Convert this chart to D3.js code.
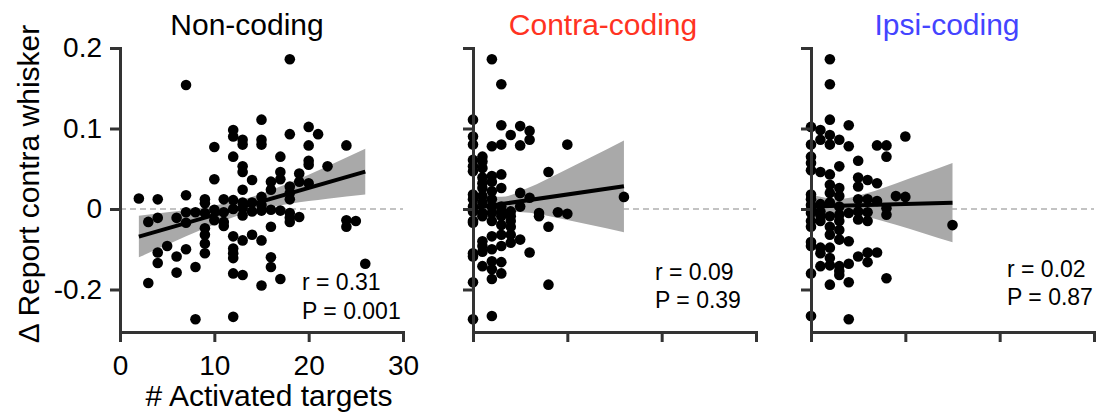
<!DOCTYPE html>
<html lang="en">
<head>
<meta charset="utf-8">
<title>Activated targets vs report</title>
<script src="https://cdn.jsdelivr.net/npm/d3@7"></script>
<style>
  body { margin: 0; background: #fff; }
  svg text { font-family: "Liberation Sans", Arial, sans-serif; }
  .axis path, .axis line { stroke: #333; stroke-width: 3; }
  .axis text { fill: #000; font-size: 28px; }
</style>
</head>
<body>
<script>
var w = 1098, h = 420;

// panel names, colours and stats
var panelTitles = ["Non-coding", "Contra-coding", "Ipsi-coding"];
var titleColors = ["#000000", "#ff3322", "#4444ff"];
var rText = ["r = 0.31", "r = 0.09", "r = 0.02"];
var pText = ["P = 0.001", "P = 0.39", "P = 0.87"];

// ticks (the lowest tick carries the "-0.2" label as in the figure)
var xTicks = [0, 10, 20, 30];
var yTicks = [0.2, 0.1, 0, -0.1];
var yTickLabels = ["0.2", "0.1", "0", "-0.2"];

// points, one column per # activated targets
var nonX = [2, 3, 4, 5, 6, 7, 8, 9, 10, 11, 12, 13, 14, 15, 16, 17, 18, 19, 20, 21, 22, 24, 25, 26];
var nonY = [
  [0.013],
  [-0.016, -0.092],
  [0.012, -0.011, -0.054, -0.067],
  [-0.046],
  [-0.011, -0.059, -0.079],
  [0.154, 0.017, -0.004, -0.017, -0.05],
  [-0.004, -0.072, -0.137],
  [0.012, 0.007, -0.005, -0.024, -0.032, -0.043, -0.055],
  [0.077, 0.037, -0.001, -0.014],
  [0.012, -0.004, -0.016, -0.021],
  [0.098, 0.09, 0.065, 0.011, 0, -0.034, -0.049, -0.055, -0.061, -0.08, -0.134],
  [0.086, 0.08, 0.053, 0.046, 0.024, 0.008, 0.001, -0.008, -0.039, -0.082],
  [0.036, 0.008, -0.003, -0.032],
  [0.111, 0.086, 0.08, 0.015, 0.005, -0.002, -0.039, -0.095],
  [0.034, 0.024, -0.001, -0.022, -0.06, -0.072],
  [0.065, 0.046, 0.037, -0.002, -0.087],
  [0.186, 0.093, 0.028, 0.02, 0.012, -0.005, -0.011, -0.016],
  [0.044, 0.034, -0.01],
  [0.102, 0.079, 0.06, 0.055, 0.032],
  [0.093],
  [0.053],
  [0.079, -0.014, -0.022],
  [-0.015],
  [-0.068]
];

var contraX = [0, 1, 2, 3, 4, 5, 6, 7, 8, 9, 10, 16];
var contraY = [
  [0.111, 0.09, 0.08, 0.061, 0.053, 0.047, 0.018, 0.012, 0.003, -0.003, -0.015, -0.017, -0.055, -0.059, -0.091, -0.137],
  [0.065, 0.059, 0.051, 0.039, 0.032, 0.026, 0.016, 0.008, -0.005, -0.009, -0.04, -0.046, -0.053, -0.071],
  [0.186, 0.078, 0.041, 0.034, 0.022, 0.012, 0.003, -0.005, -0.015, -0.034, -0.05, -0.065, -0.075, -0.087, -0.133],
  [0.155, 0.104, 0.08, 0.043, 0.026, 0.003, -0.003, -0.009, -0.02, -0.032, -0.046, -0.066, -0.08],
  [0.092, -0.003, -0.009, -0.015, -0.022, -0.032, -0.042],
  [0.103, 0.079, 0.02, 0.003, -0.038],
  [0.097, 0.086, 0.014, -0.054],
  [-0.005, -0.009],
  [0.046, -0.022, -0.094],
  [-0.004],
  [0.08, -0.006],
  [0.015]
];

var ipsiX = [0, 1, 2, 3, 4, 5, 6, 7, 8, 9, 10, 15];
var ipsiY = [
  [0.102, 0.08, 0.065, 0.057, 0.048, 0.018, 0.012, 0.005, -0.001, -0.005, -0.015, -0.022, -0.041, -0.046, -0.08, -0.133],
  [0.098, 0.086, 0.046, 0.006, -0.003, -0.008, -0.015, -0.048, -0.055, -0.071],
  [0.186, 0.155, 0.111, 0.092, 0.08, 0.043, 0.03, 0.02, 0.008, -0.009, -0.022, -0.032, -0.048, -0.061, -0.07, -0.094],
  [0.086, 0.053, 0.026, 0.016, 0.003, -0.007, -0.015, -0.026, -0.038, -0.071, -0.077, -0.082],
  [0.104, 0.078, -0.005, -0.04, -0.068, -0.091, -0.137],
  [0.06, 0.039, 0.028, 0.012, -0.003, -0.013, -0.059],
  [0.036, 0.012, -0.004, -0.015, -0.054, -0.066],
  [0.079, 0.032, 0.01, -0.054],
  [0.079, 0.065, 0.001, -0.007, -0.086],
  [0.016],
  [0.09, 0.015],
  [-0.02]
];

// fitted line ends and confidence band
var fitX = [[2, 26], [0, 16], [0, 15]];
var fitY = [[-0.0344, 0.0464], [0.001, 0.0282], [0.003, 0.0079]];
var bandX = [
  [2, 5, 9, 13.5, 18, 22, 26],
  [0, 3, 6, 9, 12.5, 16],
  [0, 3, 6, 9, 12, 15]
];
var bandLo = [
  [-0.06, -0.0445, -0.0239, -0.0047, 0.0064, 0.0127, 0.018],
  [-0.0148, -0.0029, -0.0046, -0.0112, -0.0198, -0.0288],
  [-0.0118, -0.0045, -0.0098, -0.0197, -0.0305, -0.0414]
];
var bandHi = [
  [-0.0083, -0.0041, 0.0023, 0.0133, 0.0326, 0.0531, 0.0748],
  [0.0168, 0.0151, 0.027, 0.0438, 0.0644, 0.0852],
  [0.0178, 0.0125, 0.0198, 0.0317, 0.0443, 0.0572]
];

var allX = [nonX, contraX, ipsiX];
var allY = [nonY, contraY, ipsiY];

// layout
var panelLeft = [120, 473, 811];
var panelW = 284;
var plotTop = 48, plotBottom = 332;
var titleX = [247, 603, 947];
var statX = [302, 655, 1007];
var statY = [[290, 319], [280, 308], [277, 305]];

var svg = d3.select("body").append("svg").attr("width", w).attr("height", h);

var y = d3.scaleLinear().domain([-0.1528, 0.2]).range([plotBottom, plotTop]);

for (var p = 0; p < 3; p++) {
  var x = d3.scaleLinear().domain([0, 30]).range([panelLeft[p], panelLeft[p] + panelW - 1]);
  var g = svg.append("g");

  // zero line
  g.append("line")
    .attr("x1", x(0)).attr("x2", x(30))
    .attr("y1", y(0)).attr("y2", y(0))
    .attr("stroke", "#888").attr("stroke-width", 1.2)
    .attr("stroke-dasharray", "6,4");

  // confidence band
  var band = bandX[p].map(function (bx, i) { return [bx, bandLo[p][i], bandHi[p][i]]; });
  var area = d3.area()
    .x(function (d) { return x(d[0]); })
    .y0(function (d) { return y(d[1]); })
    .y1(function (d) { return y(d[2]); })
    .curve(d3.curveMonotoneX);
  g.append("path").attr("d", area(band)).attr("fill", "#a9a9a9");

  // dots
  var pts = [];
  allX[p].forEach(function (cx, i) {
    allY[p][i].forEach(function (cy) { pts.push([cx, cy]); });
  });
  g.selectAll("circle").data(pts).enter().append("circle")
    .attr("cx", function (d) { return x(d[0]); })
    .attr("cy", function (d) { return y(d[1]); })
    .attr("r", 5.3)
    .attr("fill", "#000");

  // fit line
  g.append("line")
    .attr("x1", x(fitX[p][0])).attr("x2", x(fitX[p][1]))
    .attr("y1", y(fitY[p][0])).attr("y2", y(fitY[p][1]))
    .attr("stroke", "#000").attr("stroke-width", 4);

  // axes
  var yAxis = d3.axisLeft(y).tickValues(yTicks).tickSize(10).tickSizeOuter(0).tickPadding(8)
    .tickFormat(function (d, i) { return p === 0 ? yTickLabels[i] : ""; });
  g.append("g").attr("class", "axis")
    .attr("transform", "translate(" + x(0) + ",0)")
    .call(yAxis);

  var xAxis = d3.axisBottom(x).tickValues(xTicks).tickSize(10).tickSizeOuter(0).tickPadding(13)
    .tickFormat(function (d) { return p === 0 ? d : ""; });
  g.append("g").attr("class", "axis")
    .attr("transform", "translate(0," + plotBottom + ")")
    .call(xAxis);

  // title
  svg.append("text")
    .attr("x", titleX[p]).attr("y", 35)
    .attr("text-anchor", "middle")
    .attr("font-size", 30)
    .attr("fill", titleColors[p])
    .text(panelTitles[p]);

  // stats
  svg.append("text").attr("x", statX[p]).attr("y", statY[p][0])
    .attr("font-size", 23).text(rText[p]);
  svg.append("text").attr("x", statX[p]).attr("y", statY[p][1])
    .attr("font-size", 23).text(pText[p]);
}

svg.selectAll(".axis .domain").attr("stroke-linecap", "square");

// axis titles
svg.append("text")
  .attr("transform", "translate(39,184) rotate(-90)")
  .attr("text-anchor", "middle")
  .attr("font-size", 30)
  .text("\u0394 Report contra whisker");

svg.append("text")
  .attr("x", 269).attr("y", 406)
  .attr("text-anchor", "middle")
  .attr("font-size", 30)
  .text("# Activated targets");
</script>
</body>
</html>
